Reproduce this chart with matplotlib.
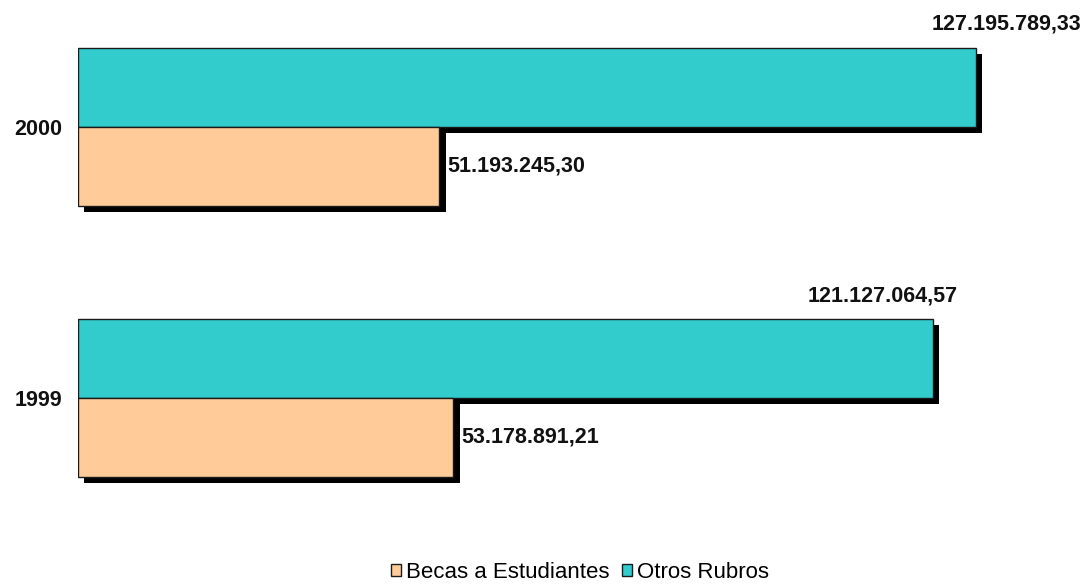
import matplotlib
matplotlib.use("Agg")
import matplotlib.pyplot as plt
import matplotlib.patheffects as pe
from matplotlib.patches import Patch

categories = ["1999", "2000"]
series_names = ["Becas a Estudiantes", "Otros Rubros"]
becas = [53178891.21, 51193245.30]
otros = [121127064.57, 127195789.33]
becas_labels = ["53.178.891,21", "51.193.245,30"]
otros_labels = ["121.127.064,57", "127.195.789,33"]

col_becas = "#FFCC99"
col_otros = "#33CCCC"

plt.rcParams['font.family'] = ['Liberation Sans', 'DejaVu Sans']

fig = plt.figure(figsize=(10.86, 5.84), dpi=100)
W, H = 1086, 584
left_px, right_px = 78, 1050
top_px, bot_px = 20, 540
ax = fig.add_axes([left_px / W, 1 - bot_px / H, (right_px - left_px) / W, (bot_px - top_px) / H])

px_per_val = (976 - 78) / otros[1]
ax.set_xlim(0, (right_px - left_px) / px_per_val)
ax.set_ylim(-0.524, 1.395)

ypos = list(range(len(categories)))
h = 0.292
shadow = [pe.SimplePatchShadow(offset=(4.5, -4.5), shadow_rgbFace='black', alpha=1.0), pe.Normal()]

bars_o = ax.barh([y + h / 2 for y in ypos], otros, height=h, color=col_otros,
                 edgecolor='#1a1a1a', linewidth=1.0, label=series_names[1], zorder=2)
bars_b = ax.barh([y - h / 2 for y in ypos], becas, height=h, color=col_becas,
                 edgecolor='#1a1a1a', linewidth=1.0, label=series_names[0], zorder=3)
for b in list(bars_o) + list(bars_b):
    b.set_path_effects(shadow)

# value labels
otros_dx = [-36, 22]  # points, horizontal offsets of label centers relative to bar end
otros_dy = [16.5, 17.5]
for y, v, lab, dx, dy in zip(ypos, otros, otros_labels, otros_dx, otros_dy):
    ax.annotate(lab, xy=(v, y + h), xytext=(dx, dy), textcoords='offset points',
                ha='center', va='center', fontsize=15.5, fontweight='bold', color='#111111')
for y, v, lab in zip(ypos, becas, becas_labels):
    ax.annotate(lab, xy=(v, y - h / 2), xytext=(6, 0.5), textcoords='offset points',
                ha='left', va='center', fontsize=15.5, fontweight='bold', color='#111111')

ax.set_yticks(ypos)
ax.set_yticklabels(categories, fontsize=15.5, fontweight='bold', color='#111111')
ax.tick_params(axis='y', length=0, pad=11)
ax.set_xticks([])
for s in ax.spines.values():
    s.set_visible(False)

handles = [Patch(facecolor=col_becas, edgecolor='#1a1a1a', linewidth=1.0),
           Patch(facecolor=col_otros, edgecolor='#1a1a1a', linewidth=1.0)]
fig.legend(handles, series_names, loc='center', bbox_to_anchor=(580 / W, 1 - 572 / H), ncol=2,
           frameon=False, fontsize=16, handlelength=0.45, handleheight=0.45,
           handletextpad=0.25, columnspacing=0.55, borderpad=0.1)

fig.savefig("out.png", dpi=100)
